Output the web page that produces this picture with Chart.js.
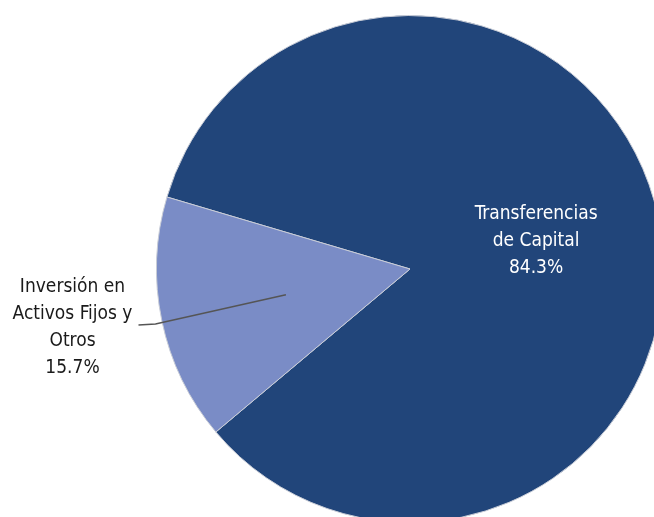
<!DOCTYPE html>
<html>
<head>
<meta charset="utf-8">
<script src="https://cdn.jsdelivr.net/npm/chart.js@4.4.1/dist/chart.umd.min.js"></script>
<style>
    html, body { margin: 0; padding: 0; background: #fff; overflow: hidden; width: 654px; height: 517px; }
    #wrap { position: absolute; left: 0; top: 0; width: 680px; height: 540px; }
</style>
</head>
<body>
<div id="wrap"><canvas id="pie_canvas" width="680" height="540"></canvas></div>
<script>
// datos del grafico
var labels = [["Transferencias", "de Capital"], ["Inversión en", "Activos Fijos y", "Otros"]];
var values = [84.3, 15.7];
var colorsTable = ["#21457a", "#7a8cc6"];

var labelFont = '19px "Liberation Sans Narrow", "DejaVu Sans Condensed", sans-serif';

// etiquetas dibujadas a mano sobre el pie
var pieLabels = {
    id: 'pieLabels',
    afterDraw: function (chart) {
        var ctx = chart.ctx;
        var arcs = chart.getDatasetMeta(0).data;
        ctx.save();
        ctx.font = labelFont;
        ctx.textAlign = 'center';
        ctx.textBaseline = 'middle';
        var lh = 27;

        // slice grande: texto dentro
        var a = arcs[0];
        var mid = (a.startAngle + a.endAngle) / 2;
        var cx = a.x + Math.cos(mid) * a.outerRadius * 0.5;
        var cy = a.y + Math.sin(mid) * a.outerRadius * 0.5;
        var lines = labels[0].concat([values[0].toFixed(1) + "%"]);
        ctx.fillStyle = '#ffffff';
        for (var i = 0; i < lines.length; i++) {
            ctx.fillText(lines[i], cx + 2, cy + (i - 1) * lh - 2);
        }

        // slice chico: texto afuera con linea
        var b = arcs[1];
        var mid2 = (b.startAngle + b.endAngle) / 2;
        var px = b.x + Math.cos(mid2) * b.outerRadius * 0.5;
        var py = b.y + Math.sin(mid2) * b.outerRadius * 0.5;
        var tx = b.x - b.outerRadius - 84;
        var ty = b.y + 16;
        ctx.strokeStyle = '#555555';
        ctx.lineWidth = 1.5;
        ctx.beginPath();
        ctx.moveTo(px, py);
        ctx.lineTo(tx + 83, ty + 39);
        ctx.lineTo(tx + 66, ty + 40);
        ctx.stroke();

        var lines2 = labels[1].concat([values[1].toFixed(1) + "%"]);
        ctx.fillStyle = '#1a1a1a';
        for (var j = 0; j < lines2.length; j++) {
            ctx.fillText(lines2[j], tx, ty + 2 + j * lh);
        }
        ctx.restore();
    }
};

var ctx = document.getElementById("pie_canvas").getContext('2d');
var chart = new Chart(ctx, {
    type: 'pie',
    data: {
        labels: labels.map(function (l) { return l.join(' '); }),
        datasets: [
            {
                data: values,
                backgroundColor: colorsTable,
                borderColor: '#c8ccd6',
                borderWidth: 1,
                hoverOffset: 0
            }
        ]
    },
    options: {
        responsive: false,
        animation: false,
        rotation: 286.5,
        layout: {
            padding: { left: 156, top: 15, right: 16, bottom: 17 }
        },
        plugins: {
            legend: { display: false },
            tooltip: { enabled: false }
        }
    },
    plugins: [pieLabels]
});
</script>
</body>
</html>
